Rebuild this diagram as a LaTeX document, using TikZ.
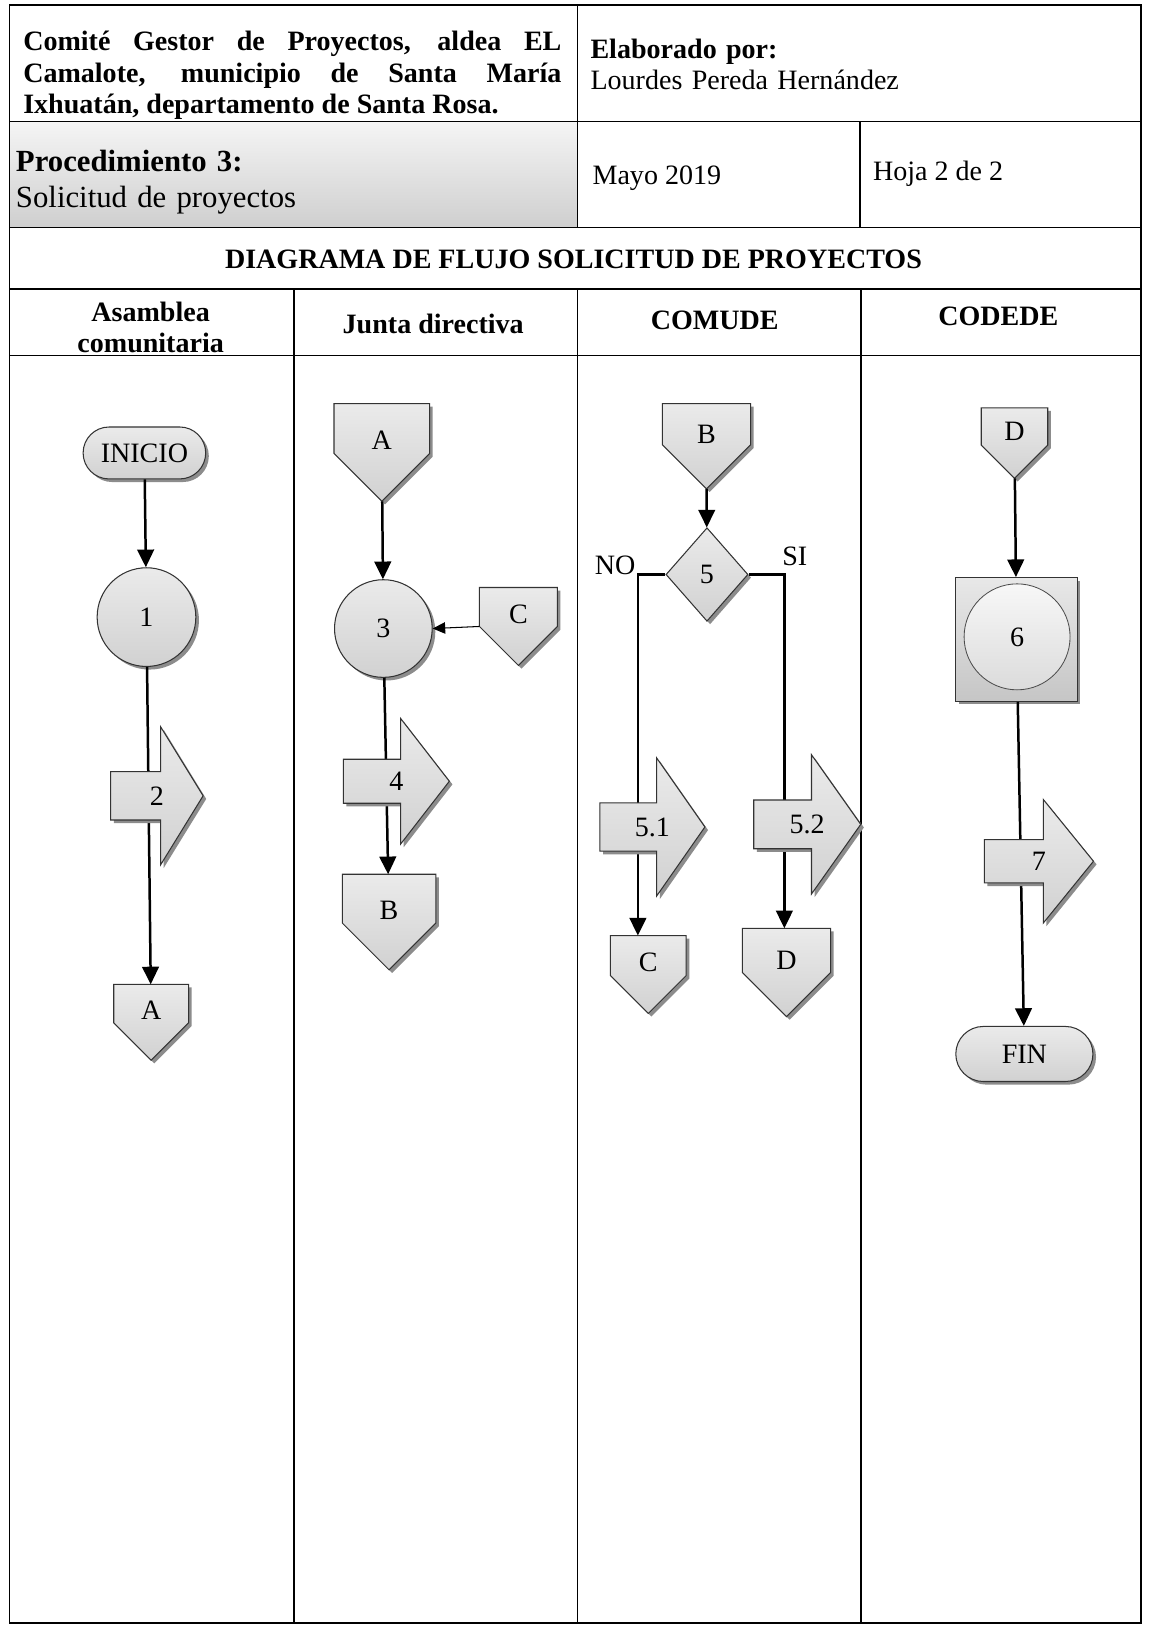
\documentclass[tikz,border=0pt]{standalone}
\usepackage{fontspec}
\setmainfont{Liberation Serif}
\usetikzlibrary{shapes.geometric,shapes.misc,shadows,arrows.meta,calc}
\makeatletter
\pgfdeclareshape{offpage}{%
  \inheritsavedanchors[from=rectangle]%
  \inheritanchorborder[from=rectangle]%
  \inheritanchor[from=rectangle]{center}%
  \inheritanchor[from=rectangle]{north}%
  \inheritanchor[from=rectangle]{south}%
  \inheritanchor[from=rectangle]{east}%
  \inheritanchor[from=rectangle]{west}%
  \inheritanchor[from=rectangle]{north east}%
  \inheritanchor[from=rectangle]{north west}%
  \inheritanchor[from=rectangle]{south east}%
  \inheritanchor[from=rectangle]{south west}%
  \inheritanchor[from=rectangle]{base}%
  \inheritanchor[from=rectangle]{mid}%
  \backgroundpath{%
    \southwest \pgf@xa=\pgf@x \pgf@ya=\pgf@y
    \northeast \pgf@xb=\pgf@x \pgf@yb=\pgf@y
    \pgf@xc=.5\pgf@xa \advance\pgf@xc by .5\pgf@xb
    \pgf@yc=\pgf@xb \advance\pgf@yc by -\pgf@xc \advance\pgf@yc by \pgf@ya
    \edef\op@xa{\the\pgf@xa}\edef\op@ya{\the\pgf@ya}%
    \edef\op@xb{\the\pgf@xb}\edef\op@yb{\the\pgf@yb}%
    \edef\op@xc{\the\pgf@xc}\edef\op@yc{\the\pgf@yc}%
    \pgfpathmoveto{\pgfqpoint{\op@xa}{\op@yb}}%
    \pgfpathlineto{\pgfqpoint{\op@xb}{\op@yb}}%
    \pgfpathlineto{\pgfqpoint{\op@xb}{\op@yc}}%
    \pgfpathlineto{\pgfqpoint{\op@xc}{\op@ya}}%
    \pgfpathlineto{\pgfqpoint{\op@xa}{\op@yc}}%
    \pgfpathclose
  }%
}
\pgfdeclareshape{blockarrow}{%
  \inheritsavedanchors[from=rectangle]%
  \inheritanchorborder[from=rectangle]%
  \inheritanchor[from=rectangle]{center}%
  \inheritanchor[from=rectangle]{north}%
  \inheritanchor[from=rectangle]{south}%
  \inheritanchor[from=rectangle]{east}%
  \inheritanchor[from=rectangle]{west}%
  \inheritanchor[from=rectangle]{north east}%
  \inheritanchor[from=rectangle]{north west}%
  \inheritanchor[from=rectangle]{south east}%
  \inheritanchor[from=rectangle]{south west}%
  \inheritanchor[from=rectangle]{base}%
  \inheritanchor[from=rectangle]{mid}%
  \backgroundpath{%
    \southwest \pgf@xa=\pgf@x \pgf@ya=\pgf@y
    \northeast \pgf@xb=\pgf@x \pgf@yb=\pgf@y
    \pgf@yc=.5\pgf@ya \advance\pgf@yc by .5\pgf@yb
    \pgf@y=\pgf@yb \advance\pgf@y by -\pgf@ya
    \pgf@y=0.175\pgf@y
    \edef\ba@s{\the\pgf@y}%
    \pgf@x=\pgf@xb \advance\pgf@x by -\pgf@xa
    \pgf@x=-0.46\pgf@x \advance\pgf@x by \pgf@xb
    \edef\ba@xh{\the\pgf@x}%
    \pgf@y=\pgf@yc \advance\pgf@y by \ba@s \edef\ba@st{\the\pgf@y}%
    \pgf@y=\pgf@yc \advance\pgf@y by -\ba@s \edef\ba@sb{\the\pgf@y}%
    \edef\ba@xa{\the\pgf@xa}\edef\ba@ya{\the\pgf@ya}%
    \edef\ba@xb{\the\pgf@xb}\edef\ba@yb{\the\pgf@yb}\edef\ba@yc{\the\pgf@yc}%
    \pgfpathmoveto{\pgfqpoint{\ba@xa}{\ba@st}}%
    \pgfpathlineto{\pgfqpoint{\ba@xh}{\ba@st}}%
    \pgfpathlineto{\pgfqpoint{\ba@xh}{\ba@yb}}%
    \pgfpathlineto{\pgfqpoint{\ba@xb}{\ba@yc}}%
    \pgfpathlineto{\pgfqpoint{\ba@xh}{\ba@ya}}%
    \pgfpathlineto{\pgfqpoint{\ba@xh}{\ba@sb}}%
    \pgfpathlineto{\pgfqpoint{\ba@xa}{\ba@sb}}%
    \pgfpathclose
  }%
}
\makeatother
\newcommand\jline[1]{\makebox[259pt][s]{\spaceskip=0pt\xspaceskip=0pt #1}}
\tikzset{
  shp/.style={draw=black!80, line width=0.5pt, top color=gray!16, bottom color=gray!36,
    drop shadow={shadow xshift=1.5pt, shadow yshift=-1.5pt, fill=black!45, opacity=1}},
  term/.style={shp, rounded rectangle, inner sep=0pt},
  proc/.style={shp, circle, inner sep=0pt},
  offp/.style={shp, shape=offpage, inner sep=0pt, text height=9pt, text depth=11.5pt},
  barrow/.style={shp, shape=blockarrow, inner sep=0pt},
  dec/.style={shp, diamond, inner sep=0pt},
  sqbox/.style={shp, rectangle, inner sep=0pt, top color=gray!18, bottom color=gray!45},
  incirc/.style={circle, draw=black!70, line width=0.4pt, inner sep=0pt, top color=gray!6, bottom color=gray!28},
  flow/.style={line width=1.2pt, -{Triangle[length=8.5pt,width=8pt]}},
  thinflow/.style={line width=0.5pt, -{Triangle[length=6pt,width=5.5pt]}},
  grid/.style={line width=0.75pt},
  lbl/.style={inner sep=0pt}
}
\begin{document}
\begin{tikzpicture}[x=0.5pt, y=-0.5pt, execute at begin picture={\fontsize{13.5}{15}\selectfont}]
\useasboundingbox (0,0) rectangle (1108,1568);
\fill[white] (0,0) rectangle (1108,1568);
% table
\shade[top color=gray!8, bottom color=gray!38] (9,117) rectangle (556,219);
\draw[grid] (9,5) rectangle (1098,1562);
\draw[grid] (9,117) -- (1098,117);
\draw[grid] (9,219) -- (1098,219);
\draw[grid] (9,278) -- (1098,278);
\draw[grid] (9,342) -- (1098,342);
\draw[grid] (556,5) -- (556,219);
\draw[grid] (828,117) -- (828,219);
\draw[grid] (283,278) -- (283,1562);
\draw[grid] (556,278) -- (556,1562);
\draw[grid] (829,278) -- (829,1562);
% header texts
\node[lbl, anchor=base west, text width=259pt, align=left, font=\bfseries] (org) at (22,49)
  {\jline{Comité Gestor de Proyectos, aldea EL}\\ \jline{Camalote, municipio de Santa María}\\ {\spaceskip=0pt\xspaceskip=0pt Ixhuatán, departamento de Santa Rosa.}};
\node[lbl, anchor=base west, text width=250pt, align=left] (elab) at (568,56)
  {\textbf{Elaborado por:}\\ Lourdes Pereda Hernández};
\node[lbl, anchor=base west, text width=265pt, align=left, font=\fontsize{14.8}{17.5}\selectfont] (proc3) at (15,165)
  {\textbf{Procedimiento 3:}\\ Solicitud de proyectos};
\node[lbl, anchor=base west] (mayo) at (570,178) {Mayo 2019};
\node[lbl, anchor=base west] (hoja) at (840,174) {Hoja 2 de 2};
\node[lbl, anchor=base, font=\bfseries] (title) at (552,258) {DIAGRAMA DE FLUJO SOLICITUD DE PROYECTOS};
\node[lbl, anchor=base, text width=120pt, align=center, font=\bfseries] (h1) at (145,309) {Asamblea\\ comunitaria};
\node[lbl, anchor=base, font=\bfseries] (h2) at (417,321) {Junta directiva};
\node[lbl, anchor=base, font=\bfseries] (h3) at (688,317) {COMUDE};
\node[lbl, anchor=base, font=\bfseries] (h4) at (961,313) {CODEDE};
% flowchart nodes
\node[term, minimum width=59pt, minimum height=25pt] (ini) at (139,436) {INICIO};
\node[proc, minimum size=47.5pt] (c1) at (141,594) {1};
\node[offp, minimum width=35.5pt, minimum height=36pt] (A1) at (145.5,984) {A};
\node[offp, minimum width=45.5pt, minimum height=46.5pt] (A2) at (367.5,435.5) {A};
\node[proc, minimum size=47pt] (c3) at (369,605) {3};
\node[offp, minimum width=37pt, minimum height=37pt] (C2) at (499,603) {C};
\node[offp, minimum width=44.5pt, minimum height=45.5pt] (B2) at (374.5,887.5) {B};
\node[offp, minimum width=42pt, minimum height=40.5pt] (B3) at (680,429.5) {B};
\node[dec, minimum width=39.5pt, minimum height=45pt] (d5) at (680.5,553) {5};
\node[offp, minimum width=36pt, minimum height=37pt] (C3) at (624,938) {C};
\node[offp, minimum width=42pt, minimum height=42pt] (D3) at (757,936) {D};
\node[offp, minimum width=31.5pt, minimum height=33.5pt] (D4) at (976.5,426.5) {D};
\node[sqbox, minimum width=58.5pt, minimum height=59.5pt] (p6) at (978.5,615.5) {};
\node[incirc, minimum size=51pt] (c6) at (979,613) {6};
\node[term, minimum width=66pt, minimum height=26.5pt] (fin) at (986,1014.5) {FIN};
\node[lbl, anchor=base] (no) at (592,553) {NO};
\node[lbl, anchor=base] (si) at (765,544) {SI};
\coordinate (noL) at (614,553);
\coordinate (siR) at (755,553);
% connectors
\draw[flow] (ini) -- (c1);
\draw[flow] (c1) -- (A1);
\draw[flow] (A2) -- (c3);
\draw[thinflow] (C2.west) -- (c3.east);
\draw[flow] (c3) -- (B2);
\draw[flow] (B3) -- (d5);
\draw[flow] (d5.west) -- (noL) -- (noL |- C3.north);
\draw[flow] (d5.east) -- (siR) -- (siR |- D3.north);
\draw[flow] (D4) -- (p6);
\draw[flow] (p6) -- (fin);
% block arrows (drawn over the connectors)
\node[barrow, minimum width=44pt, minimum height=66pt] (a2) at (151,766) {2};
\node[barrow, minimum width=50.5pt, minimum height=60pt] (a4) at (381.5,752) {4};
\node[barrow, minimum width=50pt, minimum height=66pt] (a51) at (628,796) {5.1};
\node[barrow, minimum width=51pt, minimum height=66.5pt] (a52) at (777,793.5) {5.2};
\node[barrow, minimum width=52pt, minimum height=59pt] (a7) at (1000,829) {7};
\end{tikzpicture}
\end{document}
